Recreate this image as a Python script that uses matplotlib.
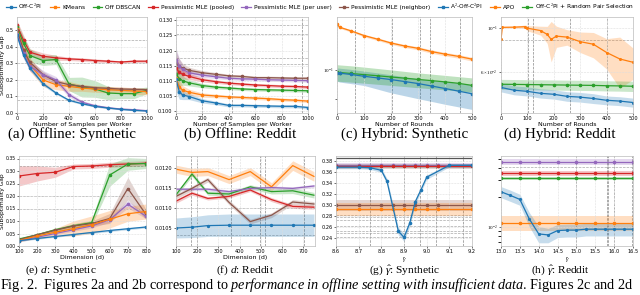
import numpy as np
import matplotlib
matplotlib.use("Agg")
import matplotlib.pyplot as plt
from matplotlib.lines import Line2D
from matplotlib.ticker import NullFormatter, NullLocator

plt.rcParams['font.family'] = ['DejaVu Sans']
plt.rcParams['mathtext.fontset'] = 'custom'
plt.rcParams['mathtext.rm'] = 'Liberation Serif'
plt.rcParams['mathtext.it'] = 'Liberation Serif:italic'

BLUE, ORANGE, GREEN = '#1f77b4', '#ff7f0e', '#2ca02c'
RED, PURPLE, BROWN = '#d62728', '#9467bd', '#8c564b'

legend_labels = ["Off-C$^2$PI", "KMeans", "Off DBSCAN", "Pessimistic MLE (pooled)",
                 "Pessimistic MLE (per user)", "Pessimistic MLE (neighbor)",
                 "A$^2$-Off-C$^2$PI", "APO", "Off-C$^2$PI + Random Pair Selection"]
legend_colors = [BLUE, ORANGE, GREEN, RED, PURPLE, BROWN, BLUE, ORANGE, GREEN]

# (a) Offline: Synthetic
x_a = [0, 50, 100, 200, 300, 400, 500, 600, 700, 800, 900, 1000]
a_blue = [0.47, 0.35, 0.272, 0.177, 0.121, 0.077, 0.056, 0.040, 0.030, 0.022, 0.016, 0.012]
a_orange = [0.51, 0.38, 0.292, 0.200, 0.171, 0.161, 0.151, 0.145, 0.141, 0.137, 0.133, 0.129]
a_green = [0.52, 0.42, 0.347, 0.317, 0.323, 0.175, 0.157, 0.145, 0.121, 0.117, 0.117, 0.137]
a_red = [0.53, 0.44, 0.367, 0.343, 0.333, 0.327, 0.323, 0.317, 0.313, 0.308, 0.313, 0.313]
a_purple = [0.48, 0.36, 0.282, 0.232, 0.200, 0.111, 0.065, 0.044, 0.032, 0.024, 0.020, 0.014]
a_brown = [0.50, 0.38, 0.306, 0.232, 0.190, 0.171, 0.161, 0.153, 0.149, 0.145, 0.143, 0.141]
a_blue_err = [0.02, 0.02, 0.015, 0.012, 0.008, 0.006, 0.005, 0.004, 0.003, 0.003, 0.003, 0.003]
a_orange_err = [0.03, 0.04, 0.04, 0.04, 0.03, 0.03, 0.02, 0.02, 0.02, 0.02, 0.02, 0.02]
a_green_err = [0.03, 0.04, 0.04, 0.03, 0.03, 0.04, 0.06, 0.05, 0.04, 0.03, 0.03, 0.02]
a_red_err = [0.03, 0.03, 0.02, 0.02, 0.015, 0.01, 0.01, 0.01, 0.008, 0.008, 0.008, 0.008]
a_purple_err = [0.02, 0.03, 0.03, 0.025, 0.02, 0.015, 0.01, 0.008, 0.006, 0.005, 0.004, 0.004]
a_brown_err = [0.02, 0.03, 0.02, 0.02, 0.015, 0.01, 0.01, 0.01, 0.01, 0.01, 0.01, 0.01]

# (b) Offline: Reddit
x_b = [0, 25, 50, 100, 200, 300, 400, 500, 600, 700, 800, 900, 1000]
b_blue = [0.1106, 0.1065, 0.1054, 0.1049, 0.1035, 0.1028, 0.1020, 0.1020, 0.1019, 0.1018, 0.1017, 0.1017, 0.1013]
b_orange = [0.1111, 0.1080, 0.1070, 0.1063, 0.1054, 0.1051, 0.1048, 0.1046, 0.1044, 0.1042, 0.1039, 0.1037, 0.1034]
b_green = [0.1122, 0.1108, 0.1101, 0.1094, 0.1085, 0.1080, 0.1077, 0.1074, 0.1072, 0.1071, 0.1070, 0.1069, 0.1068]
b_red = [0.1143, 0.1128, 0.1122, 0.1115, 0.1104, 0.1098, 0.1093, 0.1090, 0.1087, 0.1085, 0.1083, 0.1082, 0.1080]
b_purple = [0.1169, 0.1148, 0.1138, 0.1127, 0.1119, 0.1114, 0.1109, 0.1107, 0.1106, 0.1104, 0.1103, 0.1102, 0.1101]
b_brown = [0.1158, 0.1148, 0.1143, 0.1135, 0.1127, 0.1122, 0.1117, 0.1115, 0.1111, 0.1111, 0.1110, 0.1109, 0.1109]
b_err = [0.0040, 0.0025, 0.0015, 0.0010, 0.0007, 0.0006, 0.0005, 0.0005, 0.0005, 0.0005, 0.0005, 0.0005, 0.0005]

# (c) Hybrid: Synthetic
x_c = [0, 10, 50, 100, 150, 200, 250, 300, 350, 400, 450, 500]
c_orange = [0.221, 0.209, 0.197, 0.181, 0.170, 0.159, 0.151, 0.145, 0.137, 0.131, 0.126, 0.120]
c_orange_err = [0.004, 0.004, 0.004, 0.004, 0.004, 0.004, 0.004, 0.004, 0.004, 0.004, 0.004, 0.004]
c_green = [0.0955, 0.0951, 0.0936, 0.0917, 0.0899, 0.0880, 0.0862, 0.0843, 0.0826, 0.0808, 0.0788, 0.0760]
c_green_lo = [0.0818, 0.0815, 0.0805, 0.0790, 0.0775, 0.0760, 0.0745, 0.0730, 0.0717, 0.0703, 0.0690, 0.0676]
c_green_hi = [0.1090, 0.1085, 0.1070, 0.1045, 0.1020, 0.0995, 0.0970, 0.0945, 0.0925, 0.0905, 0.0885, 0.0866]
c_blue = [0.0944, 0.0940, 0.0920, 0.0891, 0.0866, 0.0841, 0.0813, 0.0785, 0.0752, 0.0720, 0.0688, 0.0657]
c_blue_lo = [0.0818, 0.0805, 0.0785, 0.0759, 0.0712, 0.0668, 0.0635, 0.0603, 0.0575, 0.0547, 0.0523, 0.0500]
c_blue_hi = [0.1030, 0.1025, 0.1005, 0.0975, 0.0945, 0.0915, 0.0885, 0.0855, 0.0830, 0.0810, 0.0790, 0.0770]

# (d) Hybrid: Reddit
x_d_apo = [0, 5, 50, 90, 100, 150, 175, 190, 210, 250, 300, 350, 400, 450, 500]
d_orange = [0.0873, 0.1003, 0.1005, 0.1010, 0.0993, 0.0966, 0.0924, 0.0873, 0.0906, 0.0896, 0.0850, 0.0825, 0.0750, 0.0696, 0.0670]
d_orange_err = [0.001, 0.001, 0.001, 0.002, 0.003, 0.005, 0.009, 0.020, 0.011, 0.008, 0.010, 0.012, 0.013, 0.020, 0.012]
x_d = [0, 50, 100, 150, 200, 250, 300, 350, 400, 450, 500]
d_green = [0.0520, 0.0519, 0.0518, 0.0517, 0.0516, 0.0515, 0.0514, 0.0513, 0.0511, 0.0510, 0.0508]
d_green_err = [0.003, 0.003, 0.003, 0.003, 0.003, 0.003, 0.003, 0.003, 0.003, 0.003, 0.003]
d_blue = [0.0501, 0.0485, 0.0479, 0.0468, 0.0463, 0.0452, 0.0448, 0.0441, 0.0432, 0.0428, 0.0421]
d_blue_err = [0.0025, 0.0025, 0.0025, 0.0025, 0.0025, 0.0025, 0.0025, 0.0025, 0.0022, 0.0022, 0.0022]

# (e) d: Synthetic
x_e = [100, 200, 300, 400, 500, 600, 700, 800]
e_blue = [0.021, 0.030, 0.038, 0.046, 0.054, 0.062, 0.069, 0.076]
e_orange = [0.022, 0.040, 0.055, 0.070, 0.085, 0.107, 0.129, 0.138]
e_green = [0.028, 0.045, 0.065, 0.081, 0.093, 0.284, 0.328, 0.330]
e_red = [0.280, 0.290, 0.295, 0.318, 0.320, 0.325, 0.328, 0.331]
e_purple = [0.020, 0.035, 0.050, 0.065, 0.080, 0.105, 0.167, 0.119]
e_brown = [0.025, 0.045, 0.063, 0.080, 0.090, 0.110, 0.230, 0.126]
e_blue_err = [0.003, 0.003, 0.003, 0.003, 0.004, 0.004, 0.004, 0.004]
e_orange_err = [0.005, 0.010, 0.015, 0.030, 0.035, 0.035, 0.030, 0.030]
e_green_err = [0.004, 0.005, 0.006, 0.008, 0.010, 0.045, 0.025, 0.020]
e_red_err = [0.040, 0.030, 0.020, 0.010, 0.010, 0.010, 0.010, 0.010]
e_purple_err = [0.003, 0.004, 0.005, 0.006, 0.008, 0.010, 0.015, 0.010]
e_brown_err = [0.004, 0.005, 0.006, 0.008, 0.010, 0.020, 0.045, 0.020]

# (f) d: Reddit
x_f = [100, 175, 250, 350, 450, 550, 650, 750]
f_blue = [0.01050, 0.01052, 0.01056, 0.01057, 0.01057, 0.01057, 0.01057, 0.01057]
f_orange = [0.01197, 0.01189, 0.01191, 0.01171, 0.01191, 0.01153, 0.01206, 0.01179]
f_green = [0.01133, 0.01185, 0.01137, 0.01135, 0.01153, 0.01141, 0.01143, 0.01132]
f_red = [0.01117, 0.01137, 0.01124, 0.01129, 0.01145, 0.01121, 0.01104, 0.01102]
f_purple = [0.01147, 0.01147, 0.01147, 0.01141, 0.01149, 0.01151, 0.01149, 0.01155]
f_brown = [0.01129, 0.01149, 0.01171, 0.01114, 0.01066, 0.01082, 0.01115, 0.01110]
f_blue_err = [0.00025, 0.00026, 0.00027, 0.00028, 0.00028, 0.00028, 0.00028, 0.00028]
f_orange_err = [0.00010, 0.00010, 0.00010, 0.00010, 0.00010, 0.00010, 0.00012, 0.00012]
f_green_err = [0.00005, 0.00006, 0.00005, 0.00005, 0.00005, 0.00006, 0.00007, 0.00007]
f_red_err = [0.00005, 0.00005, 0.00004, 0.00004, 0.00004, 0.00005, 0.00005, 0.00005]
f_purple_err = [0.00004, 0.00004, 0.00004, 0.00004, 0.00004, 0.00004, 0.00004, 0.00004]
f_brown_err = [0.00006, 0.00006, 0.00006, 0.00006, 0.00006, 0.00006, 0.00006, 0.00006]

# (g) gamma: Synthetic
x_g = [8.6, 8.7, 8.75, 8.8, 8.825, 8.875, 8.9, 8.925, 8.95, 8.975, 9.0, 9.1, 9.2]
g_blue = [0.3697, 0.3697, 0.3686, 0.3640, 0.3440, 0.2531, 0.2417, 0.2674, 0.3069, 0.3286, 0.3514, 0.3731, 0.3731]
g_blue_err = [0.003, 0.003, 0.003, 0.004, 0.005, 0.007, 0.007, 0.006, 0.005, 0.004, 0.004, 0.003, 0.003]
x_g_flat = [8.6, 8.7, 8.8, 8.85, 8.9, 8.95, 9.0, 9.05, 9.2]
g_purple = [0.3730, 0.3730, 0.3730, 0.3730, 0.3730, 0.3730, 0.3730, 0.3730, 0.3730]
g_green = [0.3720, 0.3720, 0.3720, 0.3720, 0.3720, 0.3720, 0.3720, 0.3720, 0.3720]
g_red = [0.3710, 0.3710, 0.3710, 0.3710, 0.3710, 0.3710, 0.3710, 0.3710, 0.3710]
g_brown = [0.3000, 0.3000, 0.3000, 0.3000, 0.3000, 0.3000, 0.3000, 0.3000, 0.3000]
g_orange = [0.2926, 0.2926, 0.2926, 0.2926, 0.2926, 0.2926, 0.2926, 0.2926, 0.2926]
g_top_err = [0.005, 0.005, 0.005, 0.005, 0.005, 0.005, 0.005, 0.005, 0.005]
g_brown_err = [0.010, 0.010, 0.010, 0.010, 0.010, 0.010, 0.010, 0.010, 0.010]
g_orange_err = [0.012, 0.012, 0.012, 0.012, 0.012, 0.012, 0.012, 0.012, 0.012]

# (h) gamma: Reddit
x_h_flat = [13.0, 13.5, 14.0, 14.5, 15.0, 15.5, 16.0, 16.5]
h_purple = [0.0468, 0.0468, 0.0468, 0.0468, 0.0468, 0.0468, 0.0468, 0.0468]
h_red = [0.0355, 0.0355, 0.0355, 0.0355, 0.0355, 0.0355, 0.0355, 0.0355]
h_green = [0.0316, 0.0316, 0.0316, 0.0316, 0.0316, 0.0316, 0.0316, 0.0316]
h_orange = [0.0110, 0.0110, 0.0110, 0.0110, 0.0110, 0.0110, 0.0110, 0.0110]
h_purple_err = [0.0030, 0.0030, 0.0030, 0.0030, 0.0030, 0.0030, 0.0030, 0.0030]
h_red_err = [0.0018, 0.0018, 0.0018, 0.0018, 0.0018, 0.0018, 0.0018, 0.0018]
h_green_err = [0.0013, 0.0013, 0.0013, 0.0013, 0.0013, 0.0013, 0.0013, 0.0013]
h_orange_err = [0.0020, 0.0020, 0.0020, 0.0020, 0.0020, 0.0020, 0.0020, 0.0020]
x_h = [13.0, 13.25, 13.5, 13.75, 14.0, 14.25, 14.5, 14.75, 15.0, 15.25, 15.5, 15.75, 16.0, 16.25, 16.5]
h_blue = [0.0229, 0.0210, 0.0191, 0.0120, 0.0084, 0.0082, 0.0091, 0.0092, 0.0092, 0.0094, 0.0094, 0.0094, 0.0094, 0.0094, 0.0094]
h_blue_err = [0.0030, 0.0028, 0.0025, 0.0020, 0.0016, 0.0014, 0.0014, 0.0014, 0.0014, 0.0014, 0.0014, 0.0014, 0.0014, 0.0014, 0.0014]


def band(ax, x, y, err, color, ms=1.6):
    y = np.asarray(y)
    err = np.asarray(err)
    ax.fill_between(x, y - err, y + err, color=color, alpha=0.25, lw=0)
    ax.plot(x, y, color=color, lw=0.9, marker='o', ms=ms)


def style(ax, xticks, xlabel, extra_v=(), extra_h=()):
    ax.set_xticks(xticks)
    ax.tick_params(labelsize=3.6, length=1.5, width=0.4, pad=1)
    ax.grid(True, ls='--', lw=0.4, color='#dddddd')
    for v in extra_v:
        ax.axvline(v, ls='--', lw=0.5, color='#888888', zorder=0)
    for h in extra_h:
        ax.axhline(h, ls='--', lw=0.5, color='#aaaaaa', zorder=0)
    for s in ax.spines.values():
        s.set_color('#bbbbbb')
        s.set_linewidth(0.5)
    ax.set_xlabel(xlabel, fontsize=4.5, labelpad=0.3)


W, H = 640, 295
fig = plt.figure(figsize=(W / 100, H / 100), dpi=100)


def make_ax(l, r, t, b):
    return fig.add_axes([l / W, 1 - b / H, (r - l) / W, (b - t) / H])


top_lr = [(17, 147), (176, 308), (337, 472), (501, 633)]
bot_lr = [(19, 146), (176, 315), (336, 472), (501, 633)]
axs_top = [make_ax(l, r, 17, 113) for l, r in top_lr]
axs_bot = [make_ax(l, r, 156, 246) for l, r in bot_lr]

# (a)
ax = axs_top[0]
band(ax, x_a, a_red, a_red_err, RED)
band(ax, x_a, a_green, a_green_err, GREEN)
band(ax, x_a, a_orange, a_orange_err, ORANGE)
band(ax, x_a, a_brown, a_brown_err, BROWN)
band(ax, x_a, a_purple, a_purple_err, PURPLE)
band(ax, x_a, a_blue, a_blue_err, BLUE)
ax.set_xlim(0, 1000)
ax.set_ylim(0, 0.58)
ax.set_yticks([0.0, 0.1, 0.2, 0.3, 0.4, 0.5])
style(ax, [0, 200, 400, 600, 800, 1000], "Number of Samples per Worker", extra_h=(0.44, 0.30, 0.077))
ax.set_ylabel("Suboptimality Gap", fontsize=4.6)
ax.yaxis.set_label_coords(-0.095, 0.5)

# (b)
ax = axs_top[1]
for y, c in [(b_brown, BROWN), (b_purple, PURPLE), (b_red, RED), (b_green, GREEN), (b_orange, ORANGE), (b_blue, BLUE)]:
    band(ax, x_b, y, b_err, c)
ax.set_xlim(0, 1000)
ax.set_ylim(0.0995, 0.131)
ax.set_yticks([0.100, 0.105, 0.110, 0.115, 0.120, 0.125, 0.130])
ax.set_yticklabels(["%.3f" % v for v in [0.100, 0.105, 0.110, 0.115, 0.120, 0.125, 0.130]])
style(ax, [0, 200, 400, 600, 800, 1000], "Number of Samples per Worker",
      extra_v=(195, 422, 952), extra_h=(0.1285, 0.1255, 0.1175, 0.1155))

# (c)
ax = axs_top[2]
ax.set_yscale('log')
ax.fill_between(x_c, c_blue_lo, c_blue_hi, color=BLUE, alpha=0.3, lw=0)
ax.fill_between(x_c, c_green_lo, c_green_hi, color=GREEN, alpha=0.3, lw=0)
band(ax, x_c, c_orange, c_orange_err, ORANGE)
ax.plot(x_c, c_green, color=GREEN, lw=0.9, marker='o', ms=1.6)
ax.plot(x_c, c_blue, color=BLUE, lw=0.9, marker='o', ms=1.6)
ax.set_xlim(0, 500)
ax.set_ylim(0.047, 0.25)
ax.yaxis.set_minor_locator(NullLocator())
ax.set_yticks([0.1, 0.06])
ax.set_yticklabels([r"$10^{-1}$", ""])
style(ax, [0, 100, 200, 300, 400, 500], "Number of Rounds", extra_v=(67, 203, 307, 344, 456))
ax.grid(False, axis='y')

# (d)
ax = axs_top[3]
ax.set_yscale('log')
band(ax, x_d_apo, d_orange, d_orange_err, ORANGE, ms=1.2)
band(ax, x_d, d_green, d_green_err, GREEN)
band(ax, x_d, d_blue, d_blue_err, BLUE, ms=1.2)
ax.set_xlim(0, 500)
ax.set_ylim(0.0373, 0.113)
ax.yaxis.set_minor_locator(NullLocator())
ax.yaxis.set_minor_formatter(NullFormatter())
ax.set_yticks([0.1, 0.06])
ax.set_yticklabels([r"$10^{-1}$", r"$6\times10^{-2}$"])
style(ax, [0, 100, 200, 300, 400, 500], "Number of Rounds", extra_v=(103, 122, 261, 400), extra_h=(0.087,))

# (e)
ax = axs_bot[0]
band(ax, x_e, e_red, e_red_err, RED)
band(ax, x_e, e_green, e_green_err, GREEN)
band(ax, x_e, e_brown, e_brown_err, BROWN)
band(ax, x_e, e_purple, e_purple_err, PURPLE)
band(ax, x_e, e_orange, e_orange_err, ORANGE)
band(ax, x_e, e_blue, e_blue_err, BLUE)
ax.set_xlim(100, 800)
ax.set_ylim(0, 0.36)
ax.set_yticks([0.0, 0.05, 0.10, 0.15, 0.20, 0.25, 0.30, 0.35])
ax.set_yticklabels(["%.2f" % v for v in [0.0, 0.05, 0.10, 0.15, 0.20, 0.25, 0.30, 0.35]])
style(ax, x_e, "Dimension (d)", extra_h=(0.32, 0.20, 0.148))
ax.tick_params(axis='y', labelsize=3.3, pad=0.8)
ax.set_ylabel("Suboptimality Gap", fontsize=4.3)
ax.yaxis.set_label_coords(-0.108, 0.5)

# (f)
ax = axs_bot[1]
for y, e, c in [(f_orange, f_orange_err, ORANGE), (f_green, f_green_err, GREEN),
                (f_purple, f_purple_err, PURPLE), (f_brown, f_brown_err, BROWN),
                (f_red, f_red_err, RED), (f_blue, f_blue_err, BLUE)]:
    ax.fill_between(x_f, np.array(y) - e, np.array(y) + e, color=c, alpha=0.25, lw=0)
    ax.plot(x_f, y, color=c, lw=0.9)
ax.plot(x_f, f_blue, color=BLUE, lw=0, marker='o', ms=1.4)
ax.set_xlim(100, 755)
ax.set_ylim(0.01005, 0.0123)
ax.set_yticks([0.0105, 0.0110, 0.0115, 0.0120])
ax.set_yticklabels(["%.4f" % v for v in [0.0105, 0.0110, 0.0115, 0.0120]])
style(ax, [100, 200, 300, 400, 500, 600, 700], "Dimension (d)",
      extra_v=(172, 197, 358, 495, 519, 705), extra_h=(0.0110, 0.01033))

# (g)
ax = axs_bot[2]
ax.axhline(0.387, color='#555555', lw=0.9)
band(ax, x_g_flat, g_purple, g_top_err, PURPLE)
ax.fill_between(x_g_flat, np.array(g_red) - 0.004, np.array(g_red) + 0.004, color=BROWN, alpha=0.25, lw=0)
ax.plot(x_g_flat, g_green, color=GREEN, lw=0.9, marker='o', ms=1.4)
ax.plot(x_g_flat, g_red, color=RED, lw=0.9, marker='o', ms=1.4)
band(ax, x_g_flat, g_brown, g_brown_err, BROWN)
band(ax, x_g_flat, g_orange, g_orange_err, ORANGE)
band(ax, x_g, g_blue, g_blue_err, BLUE)
ax.set_xlim(8.6, 9.2)
ax.set_ylim(0.226, 0.39)
ax.set_yticks([0.24, 0.26, 0.28, 0.30, 0.32, 0.34, 0.36, 0.38])
ax.set_yticklabels(["%.2f" % v for v in [0.24, 0.26, 0.28, 0.30, 0.32, 0.34, 0.36, 0.38]])
style(ax, [8.6, 8.7, 8.8, 8.9, 9.0, 9.1, 9.2], r"$\hat{\gamma}$",
      extra_v=(8.75, 8.90, 8.97, 9.04, 9.16),
      extra_h=(0.283, 0.279, 0.274, 0.263, 0.254, 0.250, 0.243))

# (h)
ax = axs_bot[3]
ax.set_yscale('log')
band(ax, x_h_flat, h_purple, h_purple_err, PURPLE)
band(ax, x_h_flat, h_red, h_red_err, RED)
band(ax, x_h_flat, h_green, h_green_err, GREEN)
band(ax, x_h_flat, h_orange, h_orange_err, ORANGE)
band(ax, x_h, h_blue, h_blue_err, BLUE, ms=1.3)
ax.set_xlim(13.0, 16.5)
ax.set_ylim(0.0063, 0.0537)
ax.yaxis.set_minor_formatter(NullFormatter())
ax.set_yticks([0.01])
ax.set_yticklabels([r"$10^{-2}$"])
style(ax, [13.0, 13.5, 14.0, 14.5, 15.0, 15.5, 16.0, 16.5], r"$\hat{\gamma}$",
      extra_v=(15.0, 15.8, 15.85, 16.0, 16.47), extra_h=(0.0415,))
ax.set_xticklabels(["%.1f" % v for v in [13.0, 13.5, 14.0, 14.5, 15.0, 15.5, 16.0, 16.5]])

# legend across the top
handles = [Line2D([], [], color=c, lw=0.9, marker='s', ms=1.8) for c in legend_colors]
fig.legend(handles, legend_labels, loc='upper center', bbox_to_anchor=(0.5, 1.012), ncol=9,
           fontsize=4.2, frameon=False, handlelength=1.6, columnspacing=1.3, handletextpad=0.5)

serif = 'Liberation Serif'
top_caps = ["(a) Offline: Synthetic", "(b) Offline: Reddit", "(c) Hybrid: Synthetic", "(d) Hybrid: Reddit"]
bot_caps = [r"(e) $d$: Synthetic", r"(f) $d$: Reddit", r"(g) $\hat{\gamma}$: Synthetic", r"(h) $\hat{\gamma}$: Reddit"]
for cx, s in zip([72, 240, 405, 560], top_caps):
    fig.text(cx / W, 1 - 134 / H, s, ha='center', va='center', fontsize=10.8, family=serif)
for cx, s in zip([61, 245, 405, 560], bot_caps):
    fig.text(cx / W, 1 - 270.5 / H, s, ha='center', va='center', fontsize=8.2, family=serif)

fig.text(0.0, 1 - 285 / H,
         r"Fig. 2.  Figures 2a and 2b correspond to $\it{performance\ in\ offline\ setting\ with\ insufficient\ data}$. Figures 2c and 2d",
         ha='left', va='center', fontsize=10.3, family=serif)

fig.savefig("out.png", dpi=100)
